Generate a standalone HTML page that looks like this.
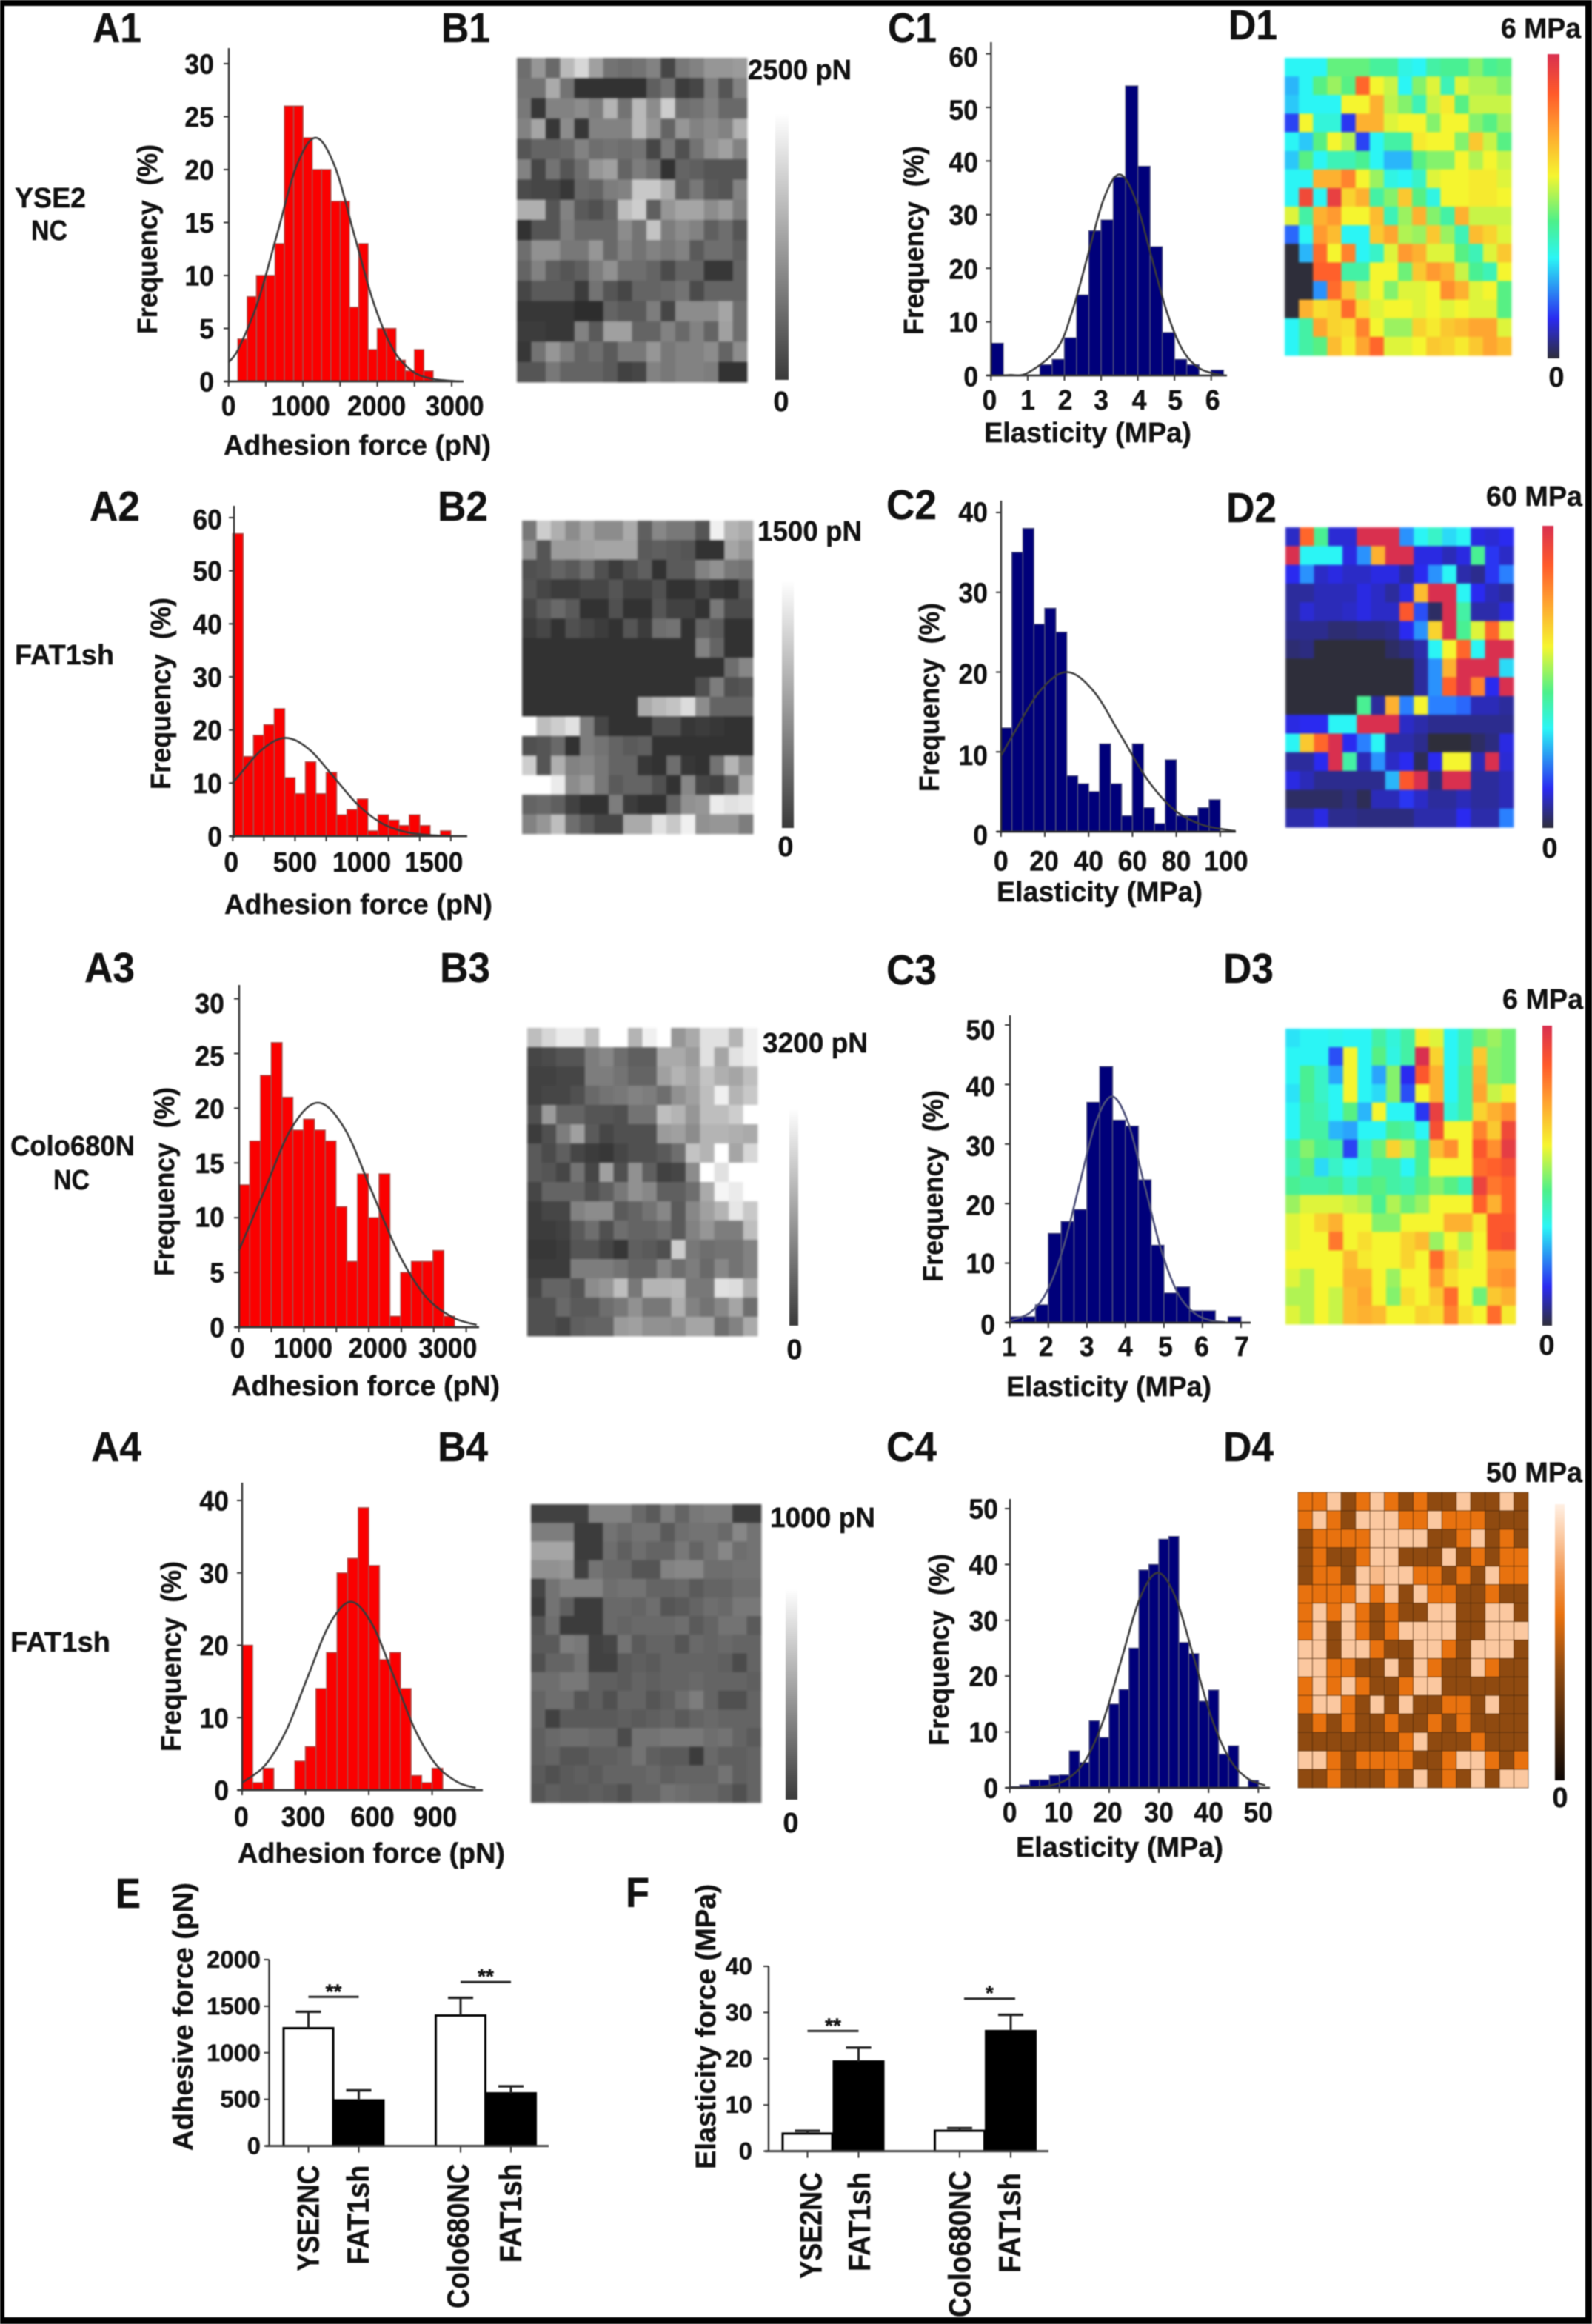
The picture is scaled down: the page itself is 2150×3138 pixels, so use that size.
<!DOCTYPE html>
<html lang="en">
<head>
<meta charset="utf-8">
<title>Adhesion force and elasticity histograms and force maps</title>
<style>
html,body{margin:0;padding:0;background:#fff;}
svg{display:block;filter:blur(.7px);}
text{font-family:"Liberation Sans",Arial,sans-serif;font-weight:bold;fill:#111;stroke:#111;stroke-width:.4px;}
</style>
</head>
<body>
<svg id="figure" xmlns="http://www.w3.org/2000/svg" width="2150" height="3138" viewBox="0 0 2150 3138">
<defs>
<linearGradient id="grayGrad" x1="0" y1="0" x2="0" y2="1"><stop offset="0" stop-color="#ffffff"/><stop offset="1" stop-color="#3a3a3a"/></linearGradient>
<linearGradient id="jetGrad" x1="0" y1="0" x2="0" y2="1"><stop offset="0" stop-color="#d9304f"/><stop offset=".13" stop-color="#ff5a2a"/><stop offset=".25" stop-color="#ffa030"/><stop offset=".40" stop-color="#f5f52f"/><stop offset=".55" stop-color="#4cf08a"/><stop offset=".67" stop-color="#2bf5f5"/><stop offset=".87" stop-color="#2a2af0"/><stop offset="1" stop-color="#2e2e3a"/></linearGradient>
<linearGradient id="copperGrad" x1="0" y1="0" x2="0" y2="1"><stop offset="0" stop-color="#fff0e4"/><stop offset=".12" stop-color="#fbc8a0"/><stop offset=".25" stop-color="#f29a55"/><stop offset=".40" stop-color="#e8720f"/><stop offset=".60" stop-color="#8f4a10"/><stop offset="1" stop-color="#0d0705"/></linearGradient>
</defs>
<rect x="0" y="0" width="2150" height="3138" fill="#fff"/>
<g id="marks"></g>

<!-- panel letters -->
<g font-size="57">
<text x="125" y="57" textLength="66" lengthAdjust="spacingAndGlyphs">A1</text>
<text x="596" y="57" textLength="66" lengthAdjust="spacingAndGlyphs">B1</text>
<text x="1199" y="57" textLength="66" lengthAdjust="spacingAndGlyphs">C1</text>
<text x="1659" y="53" textLength="66" lengthAdjust="spacingAndGlyphs">D1</text>
<text x="121" y="703" textLength="68" lengthAdjust="spacingAndGlyphs">A2</text>
<text x="591" y="703" textLength="68" lengthAdjust="spacingAndGlyphs">B2</text>
<text x="1197" y="701" textLength="68" lengthAdjust="spacingAndGlyphs">C2</text>
<text x="1656" y="705" textLength="68" lengthAdjust="spacingAndGlyphs">D2</text>
<text x="114" y="1326" textLength="68" lengthAdjust="spacingAndGlyphs">A3</text>
<text x="594" y="1326" textLength="68" lengthAdjust="spacingAndGlyphs">B3</text>
<text x="1197" y="1329" textLength="68" lengthAdjust="spacingAndGlyphs">C3</text>
<text x="1652" y="1327" textLength="68" lengthAdjust="spacingAndGlyphs">D3</text>
<text x="123" y="1973" textLength="68" lengthAdjust="spacingAndGlyphs">A4</text>
<text x="591" y="1973" textLength="68" lengthAdjust="spacingAndGlyphs">B4</text>
<text x="1197" y="1973" textLength="68" lengthAdjust="spacingAndGlyphs">C4</text>
<text x="1652" y="1973" textLength="68" lengthAdjust="spacingAndGlyphs">D4</text>
<text x="156" y="2576" textLength="34" lengthAdjust="spacingAndGlyphs">E</text>
<text x="845" y="2575" textLength="32" lengthAdjust="spacingAndGlyphs">F</text>
</g>

<!-- row labels -->
<g font-size="38">
<text x="20" y="280" textLength="96" lengthAdjust="spacingAndGlyphs">YSE2</text>
<text x="42" y="324" textLength="49" lengthAdjust="spacingAndGlyphs">NC</text>
<text x="20" y="897" textLength="134" lengthAdjust="spacingAndGlyphs">FAT1sh</text>
<text x="14" y="1560" textLength="168" lengthAdjust="spacingAndGlyphs">Colo680N</text>
<text x="72" y="1606" textLength="49" lengthAdjust="spacingAndGlyphs">NC</text>
<text x="14" y="2230" textLength="135" lengthAdjust="spacingAndGlyphs">FAT1sh</text>
</g>

<!-- axis titles -->
<g font-size="38">
<text x="302" y="614" textLength="361" lengthAdjust="spacingAndGlyphs">Adhesion force (pN)</text>
<text x="303" y="1234" textLength="362" lengthAdjust="spacingAndGlyphs">Adhesion force (pN)</text>
<text x="312" y="1884" textLength="363" lengthAdjust="spacingAndGlyphs">Adhesion force (pN)</text>
<text x="321" y="2515" textLength="361" lengthAdjust="spacingAndGlyphs">Adhesion force (pN)</text>
<text x="1329" y="597" textLength="280" lengthAdjust="spacingAndGlyphs">Elasticity (MPa)</text>
<text x="1346" y="1217" textLength="278" lengthAdjust="spacingAndGlyphs">Elasticity (MPa)</text>
<text x="1359" y="1885" textLength="277" lengthAdjust="spacingAndGlyphs">Elasticity (MPa)</text>
<text x="1372" y="2507" textLength="280" lengthAdjust="spacingAndGlyphs">Elasticity (MPa)</text>
<text x="212" y="451" transform="rotate(-90 212 451)" textLength="256" lengthAdjust="spacingAndGlyphs">Frequency&#160;&#160;(%)</text>
<text x="230" y="1066" transform="rotate(-90 230 1066)" textLength="259" lengthAdjust="spacingAndGlyphs">Frequency&#160;&#160;(%)</text>
<text x="235" y="1723" transform="rotate(-90 235 1723)" textLength="255" lengthAdjust="spacingAndGlyphs">Frequency&#160;&#160;(%)</text>
<text x="244" y="2365" transform="rotate(-90 244 2365)" textLength="257" lengthAdjust="spacingAndGlyphs">Frequency&#160;&#160;(%)</text>
<text x="1247" y="452" transform="rotate(-90 1247 452)" textLength="255" lengthAdjust="spacingAndGlyphs">Frequency&#160;&#160;(%)</text>
<text x="1268" y="1069" transform="rotate(-90 1268 1069)" textLength="255" lengthAdjust="spacingAndGlyphs">Frequency&#160;&#160;(%)</text>
<text x="1273" y="1731" transform="rotate(-90 1273 1731)" textLength="259" lengthAdjust="spacingAndGlyphs">Frequency&#160;&#160;(%)</text>
<text x="1281" y="2357" transform="rotate(-90 1281 2357)" textLength="259" lengthAdjust="spacingAndGlyphs">Frequency&#160;&#160;(%)</text>
<text font-size="38" x="260" y="2904" transform="rotate(-90 260 2904)" textLength="362" lengthAdjust="spacingAndGlyphs">Adhesive&#160;force&#160;(pN)</text>
<text font-size="38" x="966" y="2929" transform="rotate(-90 966 2929)" textLength="385" lengthAdjust="spacingAndGlyphs">Elasticity&#160;force&#160;(MPa)</text>
</g>

<!-- colour bars -->
<g>
<rect x="1047" y="153" width="18" height="360" fill="url(#grayGrad)"/>
<rect x="1056" y="783" width="16" height="335" fill="url(#grayGrad)"/>
<rect x="1066" y="1496" width="12" height="294" fill="url(#grayGrad)"/>
<rect x="1061" y="2145" width="16" height="285" fill="url(#grayGrad)"/>
<rect x="2090" y="73" width="16" height="411" fill="url(#jetGrad)"/>
<rect x="2083" y="710" width="15" height="408" fill="url(#jetGrad)"/>
<rect x="2083" y="1385" width="13" height="405" fill="url(#jetGrad)"/>
<rect x="2100" y="2031" width="13" height="373" fill="url(#copperGrad)"/>
</g>
<g font-size="38">
<text x="1010" y="107" textLength="140" lengthAdjust="spacingAndGlyphs">2500 pN</text>
<text x="1055" y="555" text-anchor="middle">0</text>
<text x="1023" y="730" textLength="141" lengthAdjust="spacingAndGlyphs">1500 pN</text>
<text x="1061" y="1156" text-anchor="middle">0</text>
<text x="1030" y="1421" textLength="142" lengthAdjust="spacingAndGlyphs">3200 pN</text>
<text x="1073" y="1835" text-anchor="middle">0</text>
<text x="1040" y="2062" textLength="142" lengthAdjust="spacingAndGlyphs">1000 pN</text>
<text x="1068" y="2474" text-anchor="middle">0</text>
<text x="2027" y="51" textLength="108" lengthAdjust="spacingAndGlyphs">6 MPa</text>
<text x="2102" y="522" text-anchor="middle">0</text>
<text x="2007" y="683" textLength="130" lengthAdjust="spacingAndGlyphs">60 MPa</text>
<text x="2093" y="1158" text-anchor="middle">0</text>
<text x="2029" y="1362" textLength="109" lengthAdjust="spacingAndGlyphs">6 MPa</text>
<text x="2089" y="1829" text-anchor="middle">0</text>
<text x="2007" y="2001" textLength="130" lengthAdjust="spacingAndGlyphs">50 MPa</text>
<text x="2107" y="2440" text-anchor="middle">0</text>
</g>

<g id="overlay">
<rect x="0" y="0" width="2150" height="8" fill="#000"/>
<rect x="0" y="3129" width="2150" height="9" fill="#000"/>
<rect x="0" y="0" width="6" height="3138" fill="#000"/>
<rect x="2141" y="0" width="9" height="3138" fill="#000"/>
</g>
</svg>

<script>
/* ---------- histogram data ---------- */
const a1Counts=[4,8,10,10,13,26,26,23,20,20,17,17,7,13,3,5,5,2,1,3,1];
const a1FitX=[0,134,393,652,911,1170,1429,1688,1947,2206,2465,2724,3000,3100];
const a1FitY=[1.8,3.1,7.5,13.9,20.3,23,20.3,13.9,7.5,3.1,1,0.26,0.05,0];
const a1XTicks=[0,500,1000,1500,2000,2500,3000];
const a1XLabels=[0,1000,2000,3000];
const a1YTicks=[0,5,10,15,20,25,30];

const a2Counts=[57,15,19,21,24,11,8,14,8,12,4,5,7,1,4,3,2,4,2,0,1];
const a2FitX=[0,42,234,425,616,808,1000,1191,1383,1574,1750];
const a2FitY=[10,11.2,16.3,18.5,16.3,11.2,6,2.5,0.8,0.2,0];
const a2XTicks=[0,250,500,750,1000,1250,1500,1750];
const a2XLabels=[0,500,1000,1500];
const a2YTicks=[0,10,20,30,40,50,60];

const a3Counts=[13,17,23,26,21,18,19,18,17,11,6,14,10,14,1,5,6,6,7,1];
const a3FitX=[0,386,801,1216,1631,2046,2461,2876,3291,3660];
const a3FitY=[7,12.4,18.1,20.5,18.1,12.4,6.7,2.8,0.9,0.2];
const a3XTicks=[0,500,1000,1500,2000,2500,3000,3500];
const a3XLabels=[0,1000,2000,3000];
const a3YTicks=[0,5,10,15,20,25,30];

const a4Counts=[20,1,3,0,0,4,6,14,19,30,32,39,31,18,19,14,2,1,3];
const a4FitX=[0,111,212,313,414,515,616,717,818,919,1020,1106];
const a4FitY=[1,3.5,8.4,15.8,22.9,26,22.9,15.8,8.4,3.5,1.1,0.3];
const a4XTicks=[0,300,600,900];
const a4XLabels=[0,300,600,900];
const a4YTicks=[0,10,20,30,40];

const c1Counts=[6,0,0,0,2,3,7,15,27,29,37,54,39,24,8,3,2,0,1];
const c1FitX=[0,0.5,1,1.8,2.225,2.65,3.075,3.5,3.925,4.35,4.775,5.2,5.625,6.05,6.3];
const c1FitY=[0,0.08,0.5,5,12.2,22.7,33,37.5,33,22.7,12.2,5,1.6,0.4,0.1];
const c1XTicks=[0,1,2,3,4,5,6];
const c1XLabels=[0,1,2,3,4,5,6];
const c1YTicks=[0,10,20,30,40,50,60];

const c2Counts=[13,35,38,26,28,25,7,6,5,11,6,2,11,3,1,9,2,2,3,4];
const c2FitX=[0,5.4,17.7,30,42.3,54.6,66.9,79.2,91.5,103.8,107];
const c2FitY=[9.5,12.1,17.6,20,17.6,12.1,6.5,2.7,0.9,0.2,0.1];
const c2XTicks=[0,20,40,60,80,100];
const c2XLabels=[0,20,40,60,80,100];
const c2YTicks=[0,10,20,30,40];

const c3Counts=[1,1,3,15,17,19,37,43,34,33,24,13,5,6,2,2,0,1];
const c3FitX=[1,1.525,1.95,2.375,2.8,3.225,3.65,4.075,4.5,4.925,5.35,5.775,6.2,6.6];
const c3FitY=[0.3,1.7,5.1,12.3,23,33.5,38,33.5,23,12.3,5.1,1.7,0.4,0.1];
const c3XTicks=[1,2,3,4,5,6,7];
const c3XLabels=[1,2,3,4,5,6,7];
const c3YTicks=[0,10,20,30,40,50];

const c4Counts=[0.2,0.5,1.4,1.4,2.2,2.3,6.6,4.5,12,9,15,17.6,25,39,40,44.5,45,26,24,15.5,17.5,6,7.5,0,1.3];
const c4FitX=[0,4,8.2,11.8,15.4,19,22.6,26.2,29.8,33.4,37,40.6,44.2,47.8,51.4];
const c4FitY=[0,0.05,0.43,1.7,5.2,12.5,23.4,34,38.5,34,23.4,12.5,5.2,1.7,0.43];
const c4XTicks=[0,10,20,30,40,50];
const c4XLabels=[0,10,20,30,40,50];
const c4YTicks=[0,10,20,30,40,50];

/* ---------- bar chart data ---------- */
const eCategories=['YSE2NC','FAT1sh','Colo680NC','FAT1sh'];
const eMeans=[1265,490,1400,565];
const eUpper=[1440,597,1590,640];
const eYTicks=[0,500,1000,1500,2000];
const eSigLevels=[1600,1760];
const eSigStars=['**','**'];

const fCategories=['YSE2NC','FAT1sh','Colo680NC','FAT1sh'];
const fMeans=[3.8,19.4,4.4,26];
const fUpper=[4.4,22.4,5,29.5];
const fYTicks=[0,10,20,30,40];
const fSigLevels=[26,33];
const fSigStars=['**','*'];

/* ---------- force maps (rows top to bottom) ---------- */
const b1Cells=[
[110,150,105,185,215,160,115,110,115,130,70,120,130,150,150,155],
[115,115,170,115,50,50,50,50,50,95,115,60,70,125,85,130],
[120,55,130,130,140,125,180,115,185,140,205,110,115,130,105,105],
[130,165,55,140,55,130,130,130,185,150,100,150,130,140,130,175],
[85,100,100,105,130,110,115,110,115,70,120,80,115,145,160,130],
[130,70,115,85,110,150,160,100,125,110,50,100,95,85,85,85],
[75,70,70,55,105,100,125,130,200,200,170,95,120,90,85,130],
[175,175,85,130,90,80,100,190,205,95,150,165,165,140,155,125],
[50,85,85,125,105,105,105,140,115,195,125,140,130,95,110,85],
[110,145,145,120,120,150,105,130,115,130,120,130,90,110,110,95],
[100,130,95,85,95,125,145,110,110,100,75,100,100,55,55,100],
[70,90,90,90,60,115,85,70,100,100,105,115,75,100,100,100],
[55,55,55,55,45,45,100,90,90,125,70,140,140,140,165,110],
[60,60,55,55,130,90,160,160,100,100,130,105,130,100,160,110],
[55,115,150,125,100,110,90,120,120,150,120,130,130,140,100,140],
[85,85,120,100,100,100,90,65,70,130,120,130,130,125,50,50]];
const b2Cells=[
[120,205,175,140,165,140,140,170,95,135,120,120,85,240,180,170],
[145,85,155,155,160,165,165,165,90,95,90,85,50,50,165,150],
[80,85,100,90,110,80,60,80,95,50,90,90,130,145,120,115],
[85,70,60,60,70,70,85,65,65,80,50,50,70,55,50,85],
[70,90,105,90,50,50,80,50,50,85,65,65,50,120,75,75],
[60,70,50,80,70,60,50,85,60,110,115,50,100,90,50,50],
[50,50,50,50,50,50,50,50,50,50,50,50,130,100,50,50],
[50,50,50,50,50,50,50,50,50,50,50,50,50,50,110,135],
[50,50,50,50,50,50,50,50,50,50,50,50,80,125,80,85],
[50,50,50,50,50,50,50,50,170,185,195,220,140,100,100,100],
[255,190,205,225,125,70,50,50,50,80,80,55,60,55,50,50],
[80,85,105,50,125,115,100,90,95,50,50,50,50,50,50,50],
[205,85,175,130,135,120,100,100,55,50,110,55,50,115,180,135],
[255,255,235,140,155,120,90,100,100,80,50,135,70,65,100,175],
[100,105,95,65,50,50,125,60,50,50,100,145,150,235,225,230],
[130,150,190,110,90,70,70,170,170,225,200,240,145,150,150,125]];
const b3Cells=[
[190,215,235,235,190,255,255,180,240,255,150,170,225,225,180,240],
[70,75,85,85,125,135,110,95,95,170,170,155,225,165,225,240],
[65,65,70,70,125,125,115,100,100,160,180,165,195,175,165,190],
[65,70,70,80,105,115,120,130,125,110,145,160,190,240,180,200],
[80,155,100,100,85,85,80,115,115,190,180,150,190,190,205,255],
[60,80,125,160,90,70,80,80,80,155,160,140,180,180,175,170],
[90,75,95,70,60,55,70,80,80,90,110,195,180,255,165,215],
[90,85,70,115,70,160,80,145,95,65,70,140,255,225,255,255],
[70,100,100,100,80,95,120,145,135,95,95,110,170,245,235,255],
[60,70,70,130,140,140,90,100,115,135,90,135,160,180,230,200],
[60,60,65,90,110,80,110,100,100,110,90,130,150,125,125,190],
[55,55,60,85,85,70,55,95,90,80,205,120,110,115,115,130],
[60,60,60,125,125,125,115,100,100,135,110,125,105,135,115,130],
[70,100,100,85,140,150,190,120,180,180,185,120,120,225,220,170],
[80,80,105,90,90,110,120,145,120,120,175,130,115,135,165,110],
[80,80,70,95,100,100,155,160,145,145,140,165,165,110,130,170]];
const b4Cells=[
[65,65,65,65,130,130,130,105,90,125,100,120,125,125,60,60],
[125,125,125,60,60,115,105,115,115,90,110,115,115,105,135,115],
[165,165,165,60,60,110,95,110,100,100,120,100,115,135,110,115],
[145,145,150,65,115,105,105,85,85,130,135,135,110,110,115,115],
[70,115,130,130,130,110,115,115,100,100,105,90,100,100,110,110],
[60,115,95,60,60,105,105,100,110,85,90,100,110,105,120,120],
[85,110,60,60,60,105,100,105,105,105,110,90,100,115,115,90],
[90,90,125,120,65,70,115,90,100,100,85,105,100,105,100,100],
[80,100,100,115,65,65,90,95,90,100,100,100,100,95,75,100],
[110,110,120,120,95,95,90,100,95,100,100,105,100,100,100,95],
[100,110,110,85,95,80,100,100,85,95,110,125,100,80,80,100],
[100,65,90,90,90,90,95,90,95,100,90,100,105,100,100,100],
[95,105,110,110,105,105,75,115,115,120,120,120,110,115,100,90],
[95,100,85,85,95,95,100,115,95,90,90,60,105,95,95,100],
[90,80,90,95,90,100,100,100,105,95,100,100,100,115,95,100],
[85,95,90,90,95,90,80,100,100,115,110,105,105,95,80,100]];
const d1Cells=[
[33,33,33,47,47,47,43,43,35,33,42,44,44,50,44,46],
[26,33,46,52,46,85,60,56,33,50,58,40,58,54,54,50],
[28,33,33,33,60,60,72,55,50,40,56,62,46,56,56,56],
[15,60,36,36,14,72,72,58,60,60,50,60,60,50,46,52],
[33,28,46,60,54,15,33,42,42,62,60,60,50,68,56,46],
[28,46,33,40,40,44,33,26,26,46,50,50,60,54,60,56],
[33,33,72,72,80,60,52,35,33,38,58,60,60,62,62,58],
[33,92,33,95,66,72,42,50,68,46,35,60,60,62,62,60],
[58,42,72,76,60,60,70,40,52,72,50,42,72,56,56,56],
[18,33,76,70,33,33,68,74,54,52,68,52,40,70,66,58],
[0,26,84,60,80,33,38,58,76,72,58,58,46,40,58,68],
[0,0,86,86,42,42,60,60,48,68,76,72,56,44,40,60],
[0,0,22,84,68,54,60,50,58,58,60,78,72,58,60,46],
[0,72,64,66,84,64,58,60,60,58,60,58,60,58,58,46],
[33,42,74,66,64,80,60,52,52,66,62,68,70,74,74,58],
[33,42,46,70,62,74,85,58,58,60,68,66,62,68,74,70]];
const d2Cells=[
[10,85,44,11,11,100,100,100,22,33,38,30,33,12,11,13],
[100,33,33,33,12,22,72,100,100,12,12,9,12,44,14,10],
[13,22,10,12,10,10,12,12,7,13,22,33,8,6,14,20],
[7,7,9,9,9,12,10,7,12,70,100,100,33,13,9,7],
[7,11,9,9,10,12,10,10,88,16,3,100,42,8,8,12],
[6,6,6,4,4,5,5,6,13,22,66,100,44,58,85,58],
[4,5,0,0,0,0,0,3,5,8,33,60,85,33,100,100],
[0,0,0,0,0,0,0,0,0,7,22,72,100,100,100,30],
[0,0,0,0,0,0,0,0,0,7,22,86,100,80,13,100],
[0,0,0,0,0,44,7,72,20,60,20,20,18,9,9,7],
[12,13,13,33,33,100,100,100,10,8,6,6,6,6,6,6],
[33,68,85,100,13,20,33,8,8,6,0,0,0,3,5,12],
[7,7,13,100,42,9,22,10,13,2,13,60,60,9,100,11],
[12,9,6,6,6,6,6,26,88,100,5,100,100,7,7,9],
[3,3,3,3,5,2,9,9,14,10,7,7,9,7,7,9],
[8,8,12,6,6,5,5,5,5,8,8,8,13,8,8,20]];
const d3Cells=[
[31,33,33,34,33,33,42,36,42,62,58,33,40,48,52,48],
[33,33,33,16,60,33,46,35,42,100,66,33,40,68,50,48],
[33,44,38,24,60,33,24,50,13,88,72,33,42,72,50,48],
[31,44,38,33,60,33,30,50,16,60,72,33,42,74,56,62],
[33,42,40,33,46,26,60,33,33,14,95,36,42,66,72,78],
[33,42,42,26,24,33,33,44,42,33,90,60,60,80,68,92],
[42,50,44,42,15,38,48,66,54,44,70,78,60,88,78,96],
[40,46,30,38,33,36,42,42,33,44,60,60,60,84,86,90],
[44,42,42,44,38,44,46,42,40,46,50,46,40,94,82,86],
[52,58,58,58,56,54,44,54,48,52,60,60,60,86,72,86],
[58,60,66,72,60,60,50,50,60,60,60,72,72,62,88,88],
[58,60,60,82,60,64,60,60,66,70,52,60,54,60,88,90],
[60,60,60,60,70,62,60,60,66,60,84,68,58,60,74,74],
[58,54,60,60,72,72,60,52,60,60,76,64,60,60,76,78],
[54,54,60,56,70,74,60,50,64,60,68,84,60,48,68,72],
[58,54,60,56,70,72,70,60,60,66,64,80,64,60,84,62]];
const d4Cells=[
[60,60,88,40,60,88,60,40,60,40,40,88,40,40,88,40],
[60,88,60,40,88,88,88,60,60,88,60,60,60,40,40,40],
[40,60,60,60,60,88,88,88,88,40,40,60,88,40,60,40],
[40,60,40,40,60,88,88,40,40,40,88,40,60,40,60,60],
[40,60,60,40,88,84,88,88,60,60,40,60,40,88,60,60],
[60,60,60,60,88,60,88,40,88,60,60,40,40,60,40,40],
[60,88,60,88,60,40,60,40,40,88,88,40,40,88,88,40],
[60,88,40,88,60,40,60,88,88,88,88,40,40,88,88,88],
[88,88,40,88,88,60,40,40,88,88,60,40,88,88,88,40],
[88,88,60,60,40,40,88,40,88,60,40,40,88,60,40,40],
[60,88,60,88,60,40,40,60,88,88,40,40,40,40,40,40],
[60,88,88,60,40,88,40,88,40,40,60,60,40,88,40,40],
[40,60,40,60,40,40,60,40,40,60,40,60,40,40,40,40],
[40,40,40,40,40,40,40,60,88,40,40,40,60,40,40,40],
[88,88,60,40,60,60,60,60,40,40,60,88,88,60,40,60],
[40,40,60,40,40,40,60,40,88,40,60,40,88,40,88,88]];

/* ---------- colour maps ---------- */
const jetStops=[[0,[46,46,58]],[13,[42,42,240]],[20,[42,128,255]],[33,[43,245,245]],[45,[76,240,138]],[60,[245,245,47]],[75,[255,160,48]],[87,[255,90,42]],[100,[217,48,79]]];
const copperStops=[[0,[13,7,5]],[40,[143,74,16]],[60,[232,114,15]],[75,[242,154,85]],[88,[251,200,160]],[100,[255,240,228]]];

function stopColor(stops,v){
  for(let i=1;i<stops.length;i++){
    if(v<=stops[i][0]){
      const a=stops[i-1],b=stops[i],t=(v-a[0])/(b[0]-a[0]);
      const c=a[1].map((n,k)=>Math.round(n+(b[1][k]-n)*t));
      return 'rgb('+c.join(',')+')';
    }
  }
  return 'rgb('+stops[stops.length-1][1].join(',')+')';
}
const grayColor=v=>'rgb('+v+','+v+','+v+')';
const jetColor=v=>stopColor(jetStops,v);
const copperColor=v=>stopColor(copperStops,v);

/* ---------- helpers ---------- */
const NS='http://www.w3.org/2000/svg';
const marks=document.getElementById('marks');
function make(tag,parent,attrs){
  const el=document.createElementNS(NS,tag);
  for(const k in attrs){el.setAttribute(k,attrs[k]);}
  parent.appendChild(el);
  return el;
}
function linear(d0,d1,p0,p1){return v=>p0+(v-d0)/(d1-d0)*(p1-p0);}

function smoothPath(pts){
  let d='M'+pts[0][0].toFixed(1)+' '+pts[0][1].toFixed(1);
  for(let i=0;i<pts.length-1;i++){
    const p0=pts[Math.max(i-1,0)],p1=pts[i],p2=pts[i+1],p3=pts[Math.min(i+2,pts.length-1)];
    const c1x=p1[0]+(p2[0]-p0[0])/6,c1y=p1[1]+(p2[1]-p0[1])/6;
    const c2x=p2[0]-(p3[0]-p1[0])/6,c2y=p2[1]-(p3[1]-p1[1])/6;
    d+=' C'+c1x.toFixed(1)+' '+c1y.toFixed(1)+' '+c2x.toFixed(1)+' '+c2y.toFixed(1)+' '+p2[0].toFixed(1)+' '+p2[1].toFixed(1);
  }
  return d;
}

function drawHeatmap(id,cells,colorFn,left,top,right,bottom,cellStroke){
  const g=make('g',marks,{});
  
  
  if(!cellStroke){g.setAttribute('style','filter:blur(1.3px)');}
  const rows=cells.length,cols=cells[0].length;
  const sx=linear(0,cols,left,right),sy=linear(0,rows,top,bottom);
  cells.forEach((row,r)=>{
    row.forEach((v,c)=>{
      const el=make('rect',g,{x:sx(c).toFixed(2),y:sy(r).toFixed(2),width:(sx(c+1)-sx(c)+(cellStroke?0:.4)).toFixed(2),height:(sy(r+1)-sy(r)+(cellStroke?0:.4)).toFixed(2),fill:colorFn(v)});
      if(cellStroke){el.setAttribute('stroke',cellStroke);el.setAttribute('stroke-width','1');}
      
      
    });
  });
}

function drawHist(cfg){
  const g=make('g',marks,{});
  
  
  const sx=linear(cfg.xD[0],cfg.xD[1],cfg.xP[0],cfg.xP[1]);
  const sy=linear(cfg.yD[0],cfg.yD[1],cfg.yP[0],cfg.yP[1]);
  const y0=sy(0);
  cfg.counts.forEach((v,i)=>{
    if(v<=0)return;
    const xa=sx(cfg.binStart+i*cfg.binWidth),xb=sx(cfg.binStart+(i+1)*cfg.binWidth);
    const bar=make('rect',g,{x:xa.toFixed(2),y:sy(v).toFixed(2),width:(xb-xa).toFixed(2),height:(y0-sy(v)).toFixed(2),fill:cfg.fill,stroke:cfg.barStroke,'stroke-width':'1.4'});
    
    
  });
  const fitPts=cfg.fitX.map((x,i)=>[sx(x),sy(cfg.fitY[i])]);
  const fit=make('path',g,{d:smoothPath(fitPts),fill:'none',stroke:cfg.fitColor||'#3a3a3a','stroke-width':'2.6'});
  
  

  const ax=cfg.axisX;
  const yAxis=make('line',g,{x1:ax,y1:cfg.topY,x2:ax,y2:y0+2,stroke:'#333','stroke-width':'2.4'});
  
  
  const xAxis=make('line',g,{x1:ax-6,y1:y0,x2:cfg.endX,y2:y0,stroke:'#333','stroke-width':'2.8'});
  
  

  cfg.yTicks.forEach((v,i)=>{
    const t=make('line',g,{x1:ax-7,y1:sy(v),x2:ax,y2:sy(v),stroke:'#333','stroke-width':'2'});
    
    
    const dy=cfg.yDy?cfg.yDy[i]:0;
    const lab=make('text',g,{x:cfg.yRight,y:(sy(v)+13.5+dy).toFixed(1),'font-size':'38','text-anchor':'end',textLength:String(v).length*19.8,lengthAdjust:'spacingAndGlyphs'});
    lab.textContent=String(v);
    
    
  });
  cfg.xTicks.forEach(v=>{
    const t=make('line',g,{x1:sx(v),y1:y0,x2:sx(v),y2:y0+7,stroke:'#333','stroke-width':'2'});
    
    
  });
  cfg.xLabels.forEach((v,i)=>{
    const lab=make('text',g,{x:(sx(v)+(cfg.xDx[i]||0)).toFixed(1),y:cfg.xBase,'font-size':'38','text-anchor':'middle',textLength:String(v).length*19.8,lengthAdjust:'spacingAndGlyphs'});
    lab.textContent=String(v);
    
    
  });
}

function drawBars(cfg){
  const g=make('g',marks,{});
  
  
  const sy=linear(cfg.yD[0],cfg.yD[1],cfg.yP[0],cfg.yP[1]);
  const y0=sy(0);
  const center=i=>cfg.start+(i%2)*cfg.step+Math.floor(i/2)*cfg.groupStep;
  cfg.means.forEach((m,i)=>{
    const cx=center(i),w=cfg.barWidth;
    const bar=make('rect',g,{x:(cx-w/2).toFixed(1),y:sy(m).toFixed(1),width:w,height:(y0-sy(m)).toFixed(1),fill:i%2?'#000':'#fff',stroke:'#000','stroke-width':'3'});
    
    
    const stem=make('line',g,{x1:cx,y1:sy(m),x2:cx,y2:sy(cfg.upper[i]),stroke:'#222','stroke-width':'3'});
    
    
    const cap=make('line',g,{x1:cx-17,y1:sy(cfg.upper[i]),x2:cx+17,y2:sy(cfg.upper[i]),stroke:'#222','stroke-width':'3.4'});
    
    
    const tick=make('line',g,{x1:cx,y1:y0,x2:cx,y2:y0+9,stroke:'#333','stroke-width':'2'});
    
    
    const base=cx+cfg.catOffset[i],top=cfg.catTop[i];
    const lab=make('text',g,{x:base.toFixed(1),y:top,'font-size':'42','text-anchor':'end',transform:'rotate(-90 '+base.toFixed(1)+' '+top+')',textLength:cfg.catLen[i],lengthAdjust:'spacingAndGlyphs'});
    lab.textContent=cfg.categories[i];
    
    
  });
  const yAxis=make('line',g,{x1:cfg.axisX,y1:sy(cfg.yTicks[cfg.yTicks.length-1]),x2:cfg.axisX,y2:y0,stroke:'#333','stroke-width':'2.4'});
  
  
  const xAxis=make('line',g,{x1:cfg.axisX-5,y1:y0,x2:cfg.endX,y2:y0,stroke:'#444','stroke-width':'3'});
  
  
  cfg.yTicks.forEach(v=>{
    const t=make('line',g,{x1:cfg.axisX-7,y1:sy(v),x2:cfg.axisX,y2:sy(v),stroke:'#333','stroke-width':'2'});
    
    
    const lab=make('text',g,{x:cfg.yRight,y:(sy(v)+11).toFixed(1),'font-size':'32','text-anchor':'end',textLength:String(v).length*18.2,lengthAdjust:'spacingAndGlyphs'});
    lab.textContent=String(v);
    
    
  });
  cfg.sigLevels.forEach((lv,k)=>{
    const xa=center(k*2)+cfg.sigShift[k],xb=center(k*2+1)+cfg.sigShift[k];
    const line=make('line',g,{x1:xa,y1:sy(lv).toFixed(1),x2:xb,y2:sy(lv).toFixed(1),stroke:'#222','stroke-width':'3'});
    
    
    const st=make('text',g,{x:((xa+xb)/2).toFixed(1),y:(sy(lv)+2).toFixed(1),'font-size':'28','text-anchor':'middle'});
    st.textContent=cfg.sigStars[k];
    
    
  });
}

/* ---------- draw ---------- */
const RED='#fb0000',REDLINE='#a8534f',NAVY='#00007a',NAVYLINE='#50527e';

drawHeatmap('b1',b1Cells,grayColor,698,78,1009,516);
drawHeatmap('b2',b2Cells,grayColor,705,703,1017,1126);
drawHeatmap('b3',b3Cells,grayColor,712,1388,1023,1804);
drawHeatmap('b4',b4Cells,grayColor,717,2031,1028,2434);
drawHeatmap('d1',d1Cells,jetColor,1735,78,2041,480);
drawHeatmap('d2',d2Cells,jetColor,1736,712,2044,1117);
drawHeatmap('d3',d3Cells,jetColor,1736,1389,2047,1788);
drawHeatmap('d4',d4Cells,copperColor,1753,2015,2064,2414,'rgba(70,35,5,.55)');

drawHist({id:'a1',counts:a1Counts,binStart:125,binWidth:125,fitX:a1FitX,fitY:a1FitY,xTicks:a1XTicks,xLabels:a1XLabels,yTicks:a1YTicks,
  xD:[0,3000],xP:[308.7,610],yD:[0,30],yP:[515,86],axisX:309,endX:626,topY:65,yRight:289,xBase:561,xDx:[0,-3,-1,4],fill:RED,barStroke:REDLINE});
drawHist({id:'a2',counts:a2Counts,binStart:0,binWidth:83.33,fitX:a2FitX,fitY:a2FitY,xTicks:a2XTicks,xLabels:a2XLabels,yTicks:a2YTicks,
  xD:[0,1500],xP:[314.3,566.8],yD:[0,60],yP:[1129,699],axisX:316,endX:631,topY:683,yRight:300,xBase:1177,xDx:[-2,0,6,19],fill:RED,barStroke:REDLINE,yDy:[0,0,0,0,0,0,2]});
drawHist({id:'a3',counts:a3Counts,binStart:0,binWidth:166,fitX:a3FitX,fitY:a3FitY,xTicks:a3XTicks,xLabels:a3XLabels,yTicks:a3YTicks,
  xD:[0,3000],xP:[322.7,585.8],yD:[0,30],yP:[1792,1348.6],axisX:323,endX:647,topY:1330,yRight:303,xBase:1833,xDx:[-2,-1,12,19],fill:RED,barStroke:REDLINE,yDy:[0,0,-1,0,0,3,6]});
drawHist({id:'a4',counts:a4Counts,binStart:0,binWidth:50,fitX:a4FitX,fitY:a4FitY,xTicks:a4XTicks,xLabels:a4XLabels,yTicks:a4YTicks,
  xD:[0,900],xP:[326.9,583.6],yD:[0,40],yP:[2417,2026],axisX:327,endX:652,topY:2002,yRight:309,xBase:2466,xDx:[-1,-3,5,4],fill:RED,barStroke:REDLINE});
drawHist({id:'c1',counts:c1Counts,binStart:0,binWidth:1/3,fitX:c1FitX,fitY:c1FitY,xTicks:c1XTicks,xLabels:c1XLabels,yTicks:c1YTicks,
  xD:[0,6],xP:[1338.4,1635.7],yD:[0,60],yP:[507,72.6],axisX:1338.4,endX:1657,topY:57,yRight:1321,xBase:553,xDx:[-2,0,1,0,2,1,2],fill:NAVY,barStroke:NAVYLINE,yDy:[1,0,1,0,1,3,4]});
drawHist({id:'c2',counts:c2Counts,binStart:0,binWidth:5,fitX:c2FitX,fitY:c2FitY,xTicks:c2XTicks,xLabels:c2XLabels,yTicks:c2YTicks,
  xD:[0,100],xP:[1351.8,1647.8],yD:[0,40],yP:[1123,692],axisX:1352,endX:1669,topY:676,yRight:1334,xBase:1175.5,xDx:[0,-1,0,0,0,8],fill:NAVY,barStroke:NAVYLINE,yDy:[4,4,2,0,-1]});
drawHist({id:'c3',counts:c3Counts,binStart:1,binWidth:1/3,fitX:c3FitX,fitY:c3FitY,xTicks:c3XTicks,xLabels:c3XLabels,yTicks:c3YTicks,
  xD:[1,7],xP:[1363.8,1675.9],yD:[0,50],yP:[1786,1384],axisX:1364,endX:1689,topY:1371,yRight:1344,xBase:1831,xDx:[-1,-3,0,0,2,-1,1],fill:NAVY,barStroke:NAVYLINE,fitColor:'#4c4f78',yDy:[2,0,2,2,2,6]});
drawHist({id:'c4',counts:c4Counts,binStart:0,binWidth:2,fitX:c4FitX,fitY:c4FitY,xTicks:c4XTicks,xLabels:c4XLabels,yTicks:c4YTicks,
  xD:[0,50],xP:[1363.7,1699.3],yD:[0,50],yP:[2414,2037],axisX:1364,endX:1715,topY:2024,yRight:1348,xBase:2460,xDx:[0,-1,-2,0,0,0],fill:NAVY,barStroke:NAVYLINE});

drawBars({id:'e',categories:eCategories,means:eMeans,upper:eUpper,yTicks:eYTicks,sigLevels:eSigLevels,sigStars:eSigStars,
  yD:[0,2000],yP:[2897.6,2646],start:416.5,step:68,groupStep:205.5,barWidth:67,axisX:363.5,endX:741,yRight:352,
  catOffset:[14,13.5,11,14],catTop:[2923.6,2923.6,2921.6,2921.6],catLen:[143,134,195.5,133.5],sigShift:[0,0]});
drawBars({id:'f',categories:fCategories,means:fMeans,upper:fUpper,yTicks:fYTicks,sigLevels:fSigLevels,sigStars:fSigStars,
  yD:[0,40],yP:[2904.6,2655],start:1090.5,step:69,groupStep:205.5,barWidth:67,axisX:1038,endX:1416,yRight:1016,
  catOffset:[19,15.5,14.6,13],catTop:[2933,2933,2931,2934],catLen:[143.7,134,198,135],sigShift:[0,6]});

/* keep the frame above everything that script appended earlier in document order */
document.getElementById('figure').appendChild(document.getElementById('overlay'));
</script>
</body>
</html>
